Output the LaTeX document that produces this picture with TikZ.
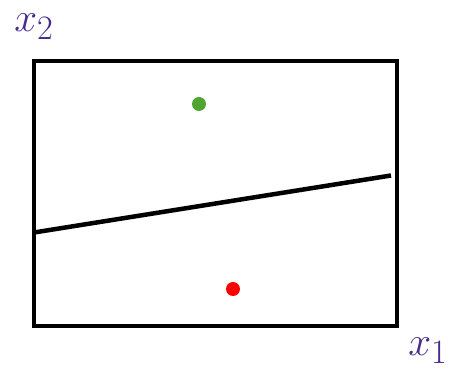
\documentclass[tikz,border=0pt]{standalone}
\definecolor{lab}{RGB}{72,44,140}
\definecolor{dotgreen}{RGB}{80,165,50}
\definecolor{dotred}{RGB}{255,0,0}
\tikzset{
  frame/.style={draw=black,line width=4.5pt},
  sep/.style={draw=black,line width=4.5pt},
  axlabel/.style={text=lab,inner sep=0pt,font=\Huge,scale=1.65},
  dot/.style={circle,inner sep=0pt,minimum size=14pt}
}
\begin{document}
\begin{tikzpicture}[x=1pt,y=-1pt]
\useasboundingbox (0,0) rectangle (451,374);
\coordinate (tl) at (34,61);
\coordinate (br) at (397,326);
\draw[frame,line join=miter] (tl) rectangle (br);
\coordinate (l1) at (34,232.5);
\coordinate (l2) at (391,175.5);
\draw[sep] (l1) -- (l2);
\node[dot,fill=dotgreen] (g) at (199,104) {};
\node[dot,fill=dotred] (r) at (233,289) {};
\node[axlabel] (x2) at (34,27) {$x_{\mathrm{2}}$};
\node[axlabel] (x1) at (428,351) {$x_{\mathrm{1}}$};
\end{tikzpicture}
\end{document}
